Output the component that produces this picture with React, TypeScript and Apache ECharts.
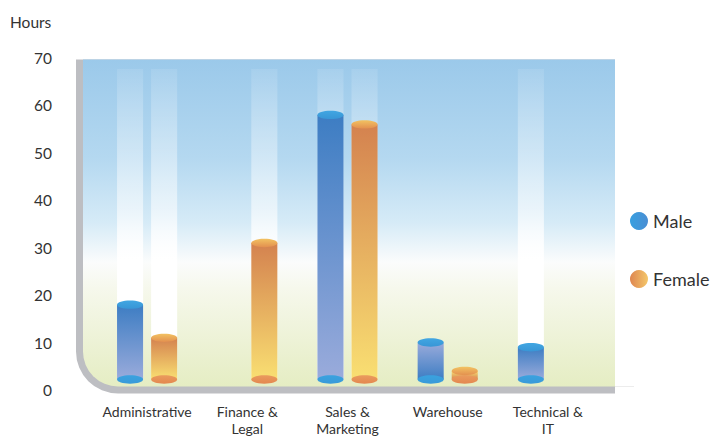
import React, { useEffect, useRef } from "react";
import * as echarts from "echarts";

const categories = ["Administrative", "Finance &\nLegal", "Sales &\nMarketing", "Warehouse", "Technical &\nIT"];
const maleHours = [18, 0, 58, 10, 9];
const femaleHours = [11, 31, 56, 4, 0];
const seriesNames = ["Male", "Female"];
const yMin = 0;
const yMax = 70;
const yInterval = 10;

// style-only settings
const NO_TRACK = ["Warehouse"];
const INVERTED = ["Warehouse"];

const LG = (x2: number, y2: number, stops: [number, string][]) =>
  new echarts.graphic.LinearGradient(0, 0, x2, y2, stops.map(([offset, color]) => ({ offset, color })));

const palettes: Record<string, any> = {
  Male: {
    body: [[0, "#3d7dc3"], [1, "#9aabdb"]],
    top: [[0, "#41a6e2"], [1, "#3896d6"]],
    bottom: [[0, "#3aa2df"], [1, "#3a9ad9"]],
    legend: LG(1, 0, [[0, "#379fe0"], [1, "#4a8ed3"]]),
    offset: -0.17,
  },
  Female: {
    body: [[0, "#d4824f"], [1, "#f9df72"]],
    top: [[0, "#f2c262"], [1, "#e3904f"]],
    bottom: [[0, "#e99b5d"], [1, "#e48850"]],
    legend: LG(1, 0, [[0, "#de8650"], [1, "#f4c76a"]]),
    offset: 0.17,
  },
};

function makeRender(name: string) {
  const p = palettes[name];
  return (params: any, api: any) => {
    const i = api.value(0);
    const v = api.value(1);
    if (!v) return null;
    const cat = categories[i].replace(/\n/g, " ");
    const top = api.coord([i, v]);
    const base = api.coord([i, 0]);
    const band = api.size([1, 0])[0];
    const w = band * 0.26;
    const cx = top[0] + p.offset * band;
    const x0 = cx - w / 2;
    const bottomY = base[1] - 10.5;
    const topY = top[1];
    const trackTop = api.coord([i, yMax])[1] + 11;
    const ry = 4.2;
    const inv = INVERTED.includes(cat);
    const bodyStops = inv ? p.body.map(([o, c]: any) => [1 - o, c]).reverse() : p.body;
    const children: any[] = [];
    if (!NO_TRACK.includes(cat)) {
      children.push({
        type: "rect",
        shape: { x: x0, y: trackTop, width: w, height: bottomY - trackTop },
        style: {
          fill: LG(0, 1, [
            [0, "rgba(255,255,255,0.1)"],
            [0.45, "rgba(255,255,255,0.55)"],
            [0.62, "rgba(255,255,255,1)"],
            [1, "rgba(255,255,255,1)"],
          ]),
        },
      });
    }
    children.push({
      type: "rect",
      shape: { x: x0, y: topY, width: w, height: bottomY - topY },
      style: { fill: LG(0, 1, bodyStops) },
    });
    children.push({
      type: "ellipse",
      shape: { cx, cy: bottomY, rx: w / 2, ry },
      style: { fill: LG(0, 1, p.bottom) },
    });
    children.push({
      type: "ellipse",
      shape: { cx, cy: topY, rx: w / 2, ry },
      style: { fill: LG(0, 1, p.top) },
    });
    return { type: "group", children };
  };
}

export default function App() {
  const ref = useRef<HTMLDivElement>(null);
  useEffect(() => {
    if (!ref.current) return;
    const chart = echarts.init(ref.current, null, { renderer: "svg" });
    const font = "Lato, 'Open Sans', sans-serif";
    chart.setOption({
      animation: false,
      textStyle: { fontFamily: font },
      title: {
        text: "Hours",
        left: 10,
        top: 14,
        padding: 0,
        textStyle: { fontSize: 15.5, fontWeight: "normal", color: "#333", fontFamily: font },
      },
      legend: {
        data: seriesNames.map((n) => ({ name: n, itemStyle: { color: palettes[n].legend } })),
        orient: "vertical",
        left: 630,
        top: 212,
        icon: "circle",
        itemWidth: 18,
        itemHeight: 18,
        itemGap: 40,
        padding: 0,
        textStyle: { fontSize: 18, color: "#333", fontFamily: font },
      },
      graphic: [
        {
          type: "rect",
          z: -10,
          shape: { x: 76, y: 59.5, width: 539, height: 334, r: [0, 0, 0, 42] },
          style: { fill: "#bdbec2" },
        },
        {
          type: "rect",
          z: -9,
          shape: { x: 83, y: 59.5, width: 532, height: 327, r: [0, 0, 0, 35] },
          style: {
            fill: LG(0, 1, [
              [0, "#9bc9ea"],
              [0.3, "#b4d8f0"],
              [0.5, "#d6ebf7"],
              [0.62, "#fbfcfc"],
              [0.7, "#f6f8ec"],
              [1, "#e5edc3"],
            ]),
          },
        },
        {
          type: "line",
          z: -9,
          shape: { x1: 615, y1: 386.5, x2: 634, y2: 386.5 },
          style: { stroke: "#ececec", lineWidth: 1 },
        },
      ],
      grid: { left: 97, right: 115, top: 58, bottom: 45 },
      xAxis: {
        type: "category",
        data: categories,
        axisLine: { show: false },
        axisTick: { show: false },
        axisLabel: { margin: 13, fontSize: 14, color: "#333", lineHeight: 17, fontFamily: font, interval: 0 },
      },
      yAxis: {
        type: "value",
        min: yMin,
        max: yMax,
        interval: yInterval,
        axisLine: { show: false },
        axisTick: { show: false },
        splitLine: { show: false },
        axisLabel: { margin: 45, fontSize: 15.5, color: "#333", fontFamily: font },
      },
      series: [
        {
          name: "Male",
          type: "custom",
          renderItem: makeRender("Male"),
          itemStyle: { color: palettes.Male.legend },
          encode: { x: 0, y: 1 },
          data: maleHours.map((v, i) => [i, v]),
          z: 3,
        },
        {
          name: "Female",
          type: "custom",
          renderItem: makeRender("Female"),
          itemStyle: { color: palettes.Female.legend },
          encode: { x: 0, y: 1 },
          data: femaleHours.map((v, i) => [i, v]),
          z: 3,
        },
      ],
    });
    return () => chart.dispose();
  }, []);
  return <div ref={ref} style={{ width: 713, height: 437, position: "absolute", left: 0, top: 0 }} />;
}
